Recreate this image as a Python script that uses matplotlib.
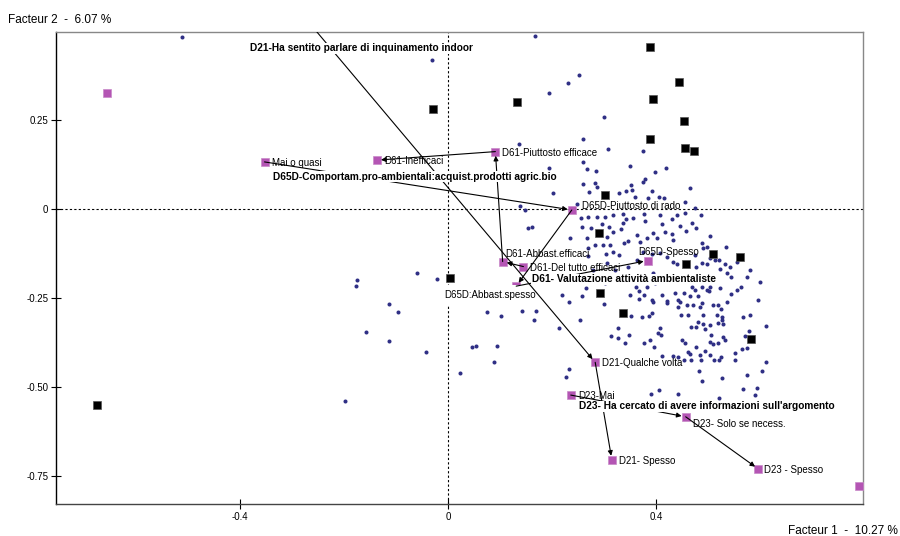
import matplotlib.pyplot as plt

plt.rcParams['font.family'] = ['Liberation Sans', 'DejaVu Sans']

# --- data: individuals (small dots), factor 1 / factor 2 coordinates ---
ind_x = [-0.512, -0.031, 0.167, 0.231, 0.252, 0.194, 0.299, 0.137, 0.260, 0.308,
         0.375, 0.194, 0.260, 0.267, 0.284, 0.349, 0.398, 0.419, 0.260, 0.283,
         0.287, 0.271, 0.201, 0.329, 0.343, 0.352, 0.353, 0.374, 0.379, 0.384,
         0.405, 0.465, 0.456, 0.475, 0.486, 0.248, 0.255, 0.286, 0.302, 0.318,
         0.337, 0.342, 0.376, 0.408, 0.430, 0.456, 0.138, 0.148, 0.360, 0.415,
         0.270, 0.297, 0.337, 0.356, 0.379, 0.411, 0.257, 0.274, 0.310, 0.318,
         0.333, 0.364, 0.395, 0.383, 0.417, 0.268, 0.305, 0.312, 0.347, 0.318,
         0.328, 0.338, 0.369, 0.401, 0.374, 0.392, 0.270, 0.363, 0.408, 0.421,
         0.440, 0.446, 0.469, 0.477, 0.458, 0.430, 0.504, 0.433, 0.488, 0.498,
         0.491, 0.535, 0.475, 0.504, 0.513, 0.522, 0.533, 0.542, 0.488, 0.498,
         0.433, 0.440, 0.477, 0.523, 0.392, 0.235, 0.283, 0.298, 0.303, 0.153,
         0.161, -0.176, -0.177, -0.060, -0.021, -0.113, -0.097, -0.158, -0.113, -0.043,
         -0.199, 0.023, 0.074, 0.101, 0.142, 0.169, 0.165, 0.046, 0.054, 0.095,
         0.089, 0.213, 0.253, 0.233, 0.299, 0.233, 0.227, 0.351, 0.373, 0.387,
         0.392, 0.327, 0.313, 0.326, 0.348, 0.340, 0.376, 0.388, 0.396, 0.408,
         0.403, 0.409, 0.411, 0.433, 0.443, 0.462, 0.465, 0.449, 0.456, 0.477,
         0.485, 0.494, 0.505, 0.503, 0.510, 0.520, 0.529, 0.533, 0.504, 0.522,
         0.524, 0.512, 0.487, 0.551, 0.552, 0.565, 0.574, 0.571, 0.578, 0.567,
         0.581, 0.612, 0.612, 0.603, 0.574, 0.482, 0.526, 0.488, 0.453, 0.467,
         0.567, 0.594, 0.590, 0.390, 0.406, 0.442, 0.521, 0.446, 0.459, 0.471,
         0.488, 0.510, 0.520, 0.421, 0.395, 0.491, 0.517, 0.526, 0.526, 0.529,
         0.504, 0.491, 0.481, 0.477, 0.494, 0.448, 0.462, 0.537, 0.574, 0.544,
         0.433, 0.469, 0.488, 0.504, 0.523, 0.475, 0.498, 0.563, 0.555, 0.544,
         0.437, 0.453, 0.465, 0.481, 0.501, 0.443, 0.536, 0.485, 0.524, 0.443,
         0.520, 0.467, 0.265, 0.219, 0.257, 0.350, 0.367, 0.376, 0.383, 0.362,
         0.411, 0.421, 0.392, 0.368, 0.269, 0.305, 0.321, 0.347, 0.369, 0.395,
         0.421, 0.331, 0.302, 0.398, 0.279, 0.510, 0.555, 0.581, 0.600, 0.596]
ind_y = [0.485, 0.419, 0.488, 0.354, 0.377, 0.327, 0.258, 0.183, 0.198, 0.170,
         0.163, 0.117, 0.132, 0.114, 0.108, 0.122, 0.105, 0.115, 0.072, 0.074,
         0.063, 0.049, 0.047, 0.047, 0.051, 0.067, 0.054, 0.077, 0.084, 0.033,
         0.035, 0.060, 0.021, 0.004, -0.016, 0.014, -0.025, -0.021, -0.021, -0.016,
         -0.013, -0.028, -0.014, -0.016, -0.028, -0.011, 0.009, -0.002, 0.035, 0.031,
         -0.021, -0.041, -0.039, -0.025, -0.032, -0.041, -0.049, -0.054, -0.049, -0.065,
         -0.055, -0.072, -0.067, -0.080, -0.065, -0.080, -0.077, -0.100, -0.089, -0.119,
         -0.128, -0.094, -0.091, -0.081, -0.119, -0.126, -0.131, -0.142, -0.124, -0.133,
         -0.016, -0.047, -0.039, -0.052, -0.060, -0.070, -0.074, -0.086, -0.094, -0.105,
         -0.110, -0.105, -0.128, -0.138, -0.142, -0.142, -0.154, -0.163, -0.150, -0.154,
         -0.147, -0.154, -0.163, -0.168, 0.051, -0.081, -0.100, -0.100, -0.126, -0.053,
         -0.049, -0.199, -0.215, -0.180, -0.197, -0.267, -0.288, -0.346, -0.371, -0.402,
         -0.538, -0.461, -0.288, -0.299, -0.287, -0.285, -0.311, -0.386, -0.383, -0.383,
         -0.428, -0.333, -0.311, -0.260, -0.266, -0.449, -0.472, -0.300, -0.302, -0.299,
         -0.292, -0.333, -0.356, -0.361, -0.353, -0.376, -0.376, -0.367, -0.386, -0.333,
         -0.347, -0.353, -0.412, -0.412, -0.414, -0.400, -0.406, -0.367, -0.375, -0.386,
         -0.409, -0.397, -0.353, -0.372, -0.378, -0.375, -0.358, -0.367, -0.409, -0.423,
         -0.416, -0.423, -0.423, -0.423, -0.404, -0.393, -0.390, -0.356, -0.341, -0.303,
         -0.297, -0.327, -0.428, -0.453, -0.465, -0.455, -0.474, -0.483, -0.423, -0.423,
         -0.506, -0.502, -0.522, -0.520, -0.508, -0.520, -0.531, -0.260, -0.269, -0.269,
         -0.262, -0.269, -0.269, -0.264, -0.260, -0.297, -0.297, -0.302, -0.311, -0.322,
         -0.325, -0.322, -0.316, -0.330, -0.337, -0.297, -0.297, -0.180, -0.191, -0.191,
         -0.189, -0.217, -0.219, -0.217, -0.222, -0.227, -0.227, -0.217, -0.227, -0.238,
         -0.234, -0.234, -0.243, -0.244, -0.231, -0.255, -0.260, -0.274, -0.281, -0.274,
         -0.319, -0.331, -0.222, -0.241, -0.244, -0.241, -0.231, -0.241, -0.219, -0.217,
         -0.241, -0.257, -0.255, -0.253, -0.110, -0.152, -0.171, -0.161, -0.189, -0.180,
         -0.189, -0.199, -0.207, -0.207, -0.171, -0.189, -0.148, -0.171, -0.204, -0.254]

# --- data: supplementary points (black squares) ---
sup_x = [0.389, 0.444, 0.394, 0.453, 0.389, 0.456, 0.473, 0.301, 0.132, -0.029,
         0.291, 0.003, 0.510, 0.562, 0.457, 0.293, 0.337, 0.583, -0.676]
sup_y = [0.455, 0.357, 0.309, 0.249, 0.198, 0.173, 0.163, 0.039, 0.301, 0.281,
         -0.067, -0.192, -0.126, -0.133, -0.154, -0.234, -0.292, -0.365, -0.550]

# --- data: active modalities (purple squares) ---
mod_names = ['m1', 'Mai o quasi', 'D61-Inefficaci', 'D61-Piuttosto efficace',
             'D65D-Piuttosto di rado', 'D61-Abbast.efficaci', 'D61-Del tutto efficaci',
             'D65D-Spesso', 'D65D:Abbast.spesso', 'D21-Qualche volta', 'D23-Mai',
             'D23- Solo se necess.', 'D21- Spesso', 'D23 - Spesso', 'm2', 'D21-Mai']
mod_x = [-0.655, -0.353, -0.137, 0.091, 0.238, 0.105, 0.145, 0.384, 0.131, 0.283,
         0.236, 0.457, 0.315, 0.597, 0.790, -0.360]
mod_y = [0.326, 0.133, 0.138, 0.162, -0.002, -0.147, -0.161, -0.144, -0.216, -0.430,
         -0.522, -0.583, -0.704, -0.730, -0.777, 0.685]

# trajectories between modalities of the same question (from, to)
links = [('Mai o quasi', 'D65D-Piuttosto di rado'),
         ('D65D-Piuttosto di rado', 'D65D:Abbast.spesso'),
         ('D65D:Abbast.spesso', 'D65D-Spesso'),
         ('D61-Del tutto efficaci', 'D61-Abbast.efficaci'),
         ('D61-Abbast.efficaci', 'D61-Piuttosto efficace'),
         ('D61-Piuttosto efficace', 'D61-Inefficaci'),
         ('D21-Mai', 'D21-Qualche volta'),
         ('D21-Qualche volta', 'D21- Spesso'),
         ('D23-Mai', 'D23- Solo se necess.'),
         ('D23- Solo se necess.', 'D23 - Spesso')]

# question titles
questions = ['D21-Ha sentito parlare di inquinamento indoor',
             'D65D-Comportam.pro-ambientali:acquist.prodotti agric.bio',
             'D61- Valutazione attività ambientaliste',
             "D23- Ha cercato di avere informazioni sull'argomento"]

xticks = [-0.4, 0, 0.4]
xtick_labels = ['-0.4', '0', '0.4']
yticks = [0.25, 0, -0.25, -0.50, -0.75]
ytick_labels = ['0.25', '0', '-0.25', '-0.50', '-0.75']

# --- layout ---
label_offsets = {  # pixels from the marker
    'Mai o quasi': (7, -1), 'D61-Inefficaci': (7, -1), 'D61-Piuttosto efficace': (7, -1),
    'D65D-Piuttosto di rado': (10, 4), 'D61-Abbast.efficaci': (3, 8),
    'D61-Del tutto efficaci': (7, -1), 'D65D-Spesso': (-9, 9),
    'D65D:Abbast.spesso': (-72, -9), 'D21-Qualche volta': (7, -1), 'D23-Mai': (7, -1),
    'D23- Solo se necess.': (7, -7), 'D21- Spesso': (7, -1), 'D23 - Spesso': (6, -1),
}
question_pos = [(-0.381, 0.452), (-0.336, 0.092), (0.161, -0.197), (0.252, -0.554)]

fig = plt.figure(figsize=(9, 5.36), dpi=100)
ax = fig.add_axes([56 / 900, 1 - 504 / 536, 807 / 900, 472 / 536])
ax.set_xlim(-0.754, 0.798)
ax.set_ylim(-0.828, 0.498)

ax.axhline(0, color='black', lw=0.8, ls=(0, (2, 2)), zorder=1)
ax.axvline(0, color='black', lw=0.8, ls=(0, (2, 2)), zorder=1)

ax.plot(ind_x, ind_y, 'o', ms=2.9, color='#2f2f85', mec='none', zorder=2)
ax.plot(sup_x, sup_y, 's', ms=5.5, color='black', mec='#555555', mew=0.5, zorder=3)
ax.plot(mod_x, mod_y, 's', ms=5.5, color='#b455b4', mec='#c88ac8', mew=0.5, zorder=3)

pos = {n: (x, y) for n, x, y in zip(mod_names, mod_x, mod_y)}

for name, (dx, dy) in label_offsets.items():
    ax.annotate(name, pos[name], xytext=(dx, dy), textcoords='offset pixels',
                ha='left', va='center', fontsize=7, zorder=4,
                bbox=dict(facecolor='white', edgecolor='none', pad=4)
                if name == 'D65D:Abbast.spesso' else None)

for a, b in links:
    ann = ax.annotate('', xy=pos[b], xytext=pos[a],
                      arrowprops=dict(arrowstyle='-|>', color='black', lw=0.8,
                                      mutation_scale=7, shrinkA=0, shrinkB=3),
                      annotation_clip=False, zorder=5)
    ann.arrow_patch.set_clip_path(ax.patch)

for q, (qx, qy) in zip(questions, question_pos):
    ax.text(qx, qy, q, ha='left', va='center', fontsize=7.3, fontweight='bold', zorder=6,
            bbox=dict(facecolor='white', edgecolor='none', pad=0.5))

ax.set_xticks(xticks)
ax.set_xticklabels(xtick_labels)
ax.set_yticks(yticks)
ax.set_yticklabels(ytick_labels)
ax.tick_params(direction='inout', length=7, width=0.8, labelsize=7, pad=2)
ax.spines['left'].set_color('black')
ax.spines['bottom'].set_color('#444444')
ax.spines['top'].set_color('#888888')
ax.spines['right'].set_color('#888888')
for s in ax.spines.values():
    s.set_linewidth(1.0)

fig.text(8 / 900, 1 - 20 / 536, 'Facteur 2  -  6.07 %', fontsize=8.5, va='center')
fig.text(898 / 900, 1 - 531 / 536, 'Facteur 1  -  10.27 %', fontsize=8.5,
         va='center', ha='right')

fig.savefig('out.png', dpi=100)
